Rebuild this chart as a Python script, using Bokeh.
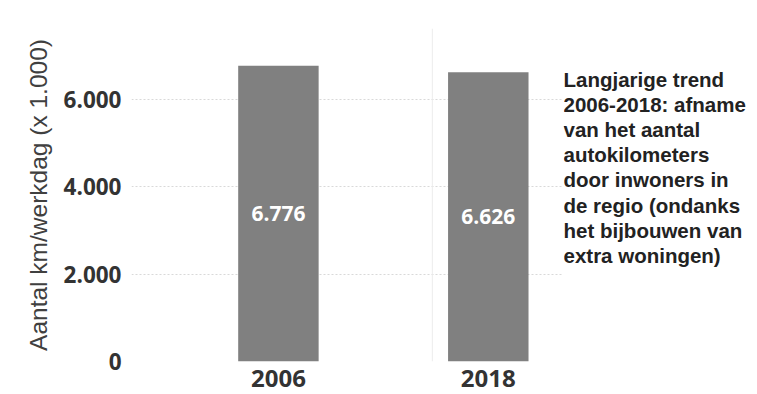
from bokeh.plotting import figure
from bokeh.layouts import row
from bokeh.models import Range1d, FixedTicker, Label, Span, ColumnDataSource
from bokeh.core.properties import value
from bokeh.embed import file_html
from bokeh.resources import INLINE

# ---- data ----
years = [2006, 2018]
km_per_day = [6776, 6626]          # x 1.000 km per werkdag
value_labels = ["6.776", "6.626"]
y_ticks = [0, 2000, 4000, 6000]
y_tick_labels = ["0", "2.000", "4.000", "6.000"]
y_title = "Aantal km/werkdag (x 1.000)"
note = ("Langjarige trend\n2006-2018: afname\nvan het aantal\nautokilometers\n"
        "door inwoners in\nde regio (ondanks\nhet bijbouwen van\nextra woningen)")

src = ColumnDataSource(dict(
    x=years,
    top=km_per_day,
    mid=[v / 2 for v in km_per_day],
    lab=value_labels,
))

yr = Range1d(0, 7630)
TOP, BOTTOM = 28, 33

p = figure(width=563, height=394, output_backend="svg", toolbar_location=None,
           x_range=Range1d(1997.6, 2022.3), y_range=yr,
           min_border_left=131, min_border_right=0, min_border_top=TOP,
           min_border_bottom=BOTTOM)
p.outline_line_color = None
p.background_fill_color = "white"
p.border_fill_color = "white"

p.vbar(x="x", top="top", bottom=0, width=4.6, source=src,
       fill_color="#808080", line_color=None)
p.text(x="x", y="mid", text="lab", source=src, text_align="center",
       text_baseline="middle", text_color="white", text_font=value("Open Sans"),
       text_font_style="bold", text_font_size="21px")

# separator between the two panels
p.add_layout(Span(location=2014.8, dimension="height", line_color="#ececec", line_width=1))

# axes
p.xgrid.visible = False
p.ygrid.ticker = FixedTicker(ticks=y_ticks)
p.ygrid.grid_line_color = "#d9d9d9"
p.ygrid.grid_line_dash = "2 2"
p.ygrid.grid_line_width = 1

ya = p.yaxis[0]
ya.ticker = FixedTicker(ticks=y_ticks)
ya.major_label_overrides = {t: l for t, l in zip(y_ticks, y_tick_labels)}
ya.axis_line_color = None
ya.major_tick_line_color = None
ya.minor_tick_line_color = None
ya.major_tick_out = 0
ya.major_tick_in = 0
ya.major_label_standoff = 10
ya.major_label_text_font = "Open Sans"
ya.major_label_text_font_style = "bold"
ya.major_label_text_font_size = "22.5px"
ya.major_label_text_color = "#333333"
ya.axis_label = y_title
ya.axis_label_text_font = "Liberation Sans"
ya.axis_label_text_font_style = "normal"
ya.axis_label_text_font_size = "24.5px"
ya.axis_label_text_color = "#404040"
ya.axis_label_standoff = 9

xa = p.xaxis[0]
xa.ticker = FixedTicker(ticks=years)
xa.major_label_overrides = {y: str(y) for y in years}
xa.axis_line_color = None
xa.major_tick_line_color = None
xa.minor_tick_line_color = None
xa.major_tick_out = 0
xa.major_tick_in = 0
xa.major_label_standoff = 8
xa.major_label_text_font = "Open Sans"
xa.major_label_text_font_style = "bold"
xa.major_label_text_font_size = "24px"
xa.major_label_text_color = "#333333"

# annotation panel on the right
p2 = figure(width=194, height=394, output_backend="svg", toolbar_location=None,
            x_range=Range1d(0, 1), y_range=yr,
            min_border_left=0, min_border_right=0, min_border_top=TOP,
            min_border_bottom=BOTTOM)
p2.axis.visible = False
p2.grid.visible = False
p2.outline_line_color = None
p2.add_layout(Label(x=0, y=6720, text=note, x_offset=0,
                    text_align="left", text_baseline="top",
                    text_font="Liberation Sans", text_font_style="bold",
                    text_font_size="20.5px", text_color="#222222",
                    text_line_height=1.09))

layout = row(p, p2)
open("out.html", "w").write(file_html(layout, INLINE))
